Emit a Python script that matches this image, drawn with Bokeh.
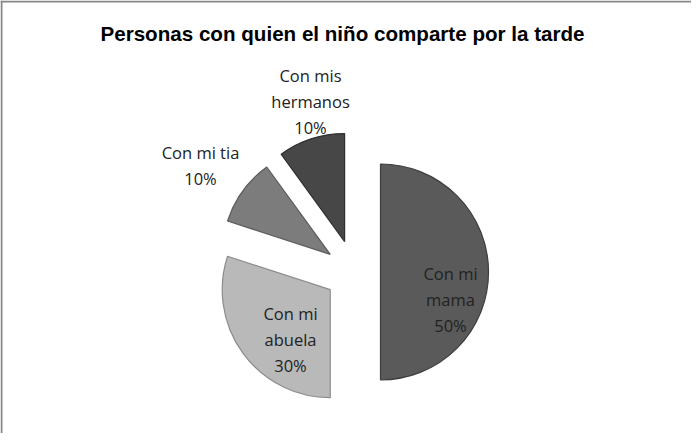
import math
from bokeh.plotting import figure
from bokeh.models import Range1d, Span, Label, ColumnDataSource
from bokeh.core.properties import value
from bokeh.embed import file_html
from bokeh.resources import INLINE

# ---- data ----
title_text = "Personas con quien el niño comparte por la tarde"
categories = ["Con mi\nmama", "Con mi\nabuela", "Con mi tia", "Con mis\nhermanos"]
percentages = [50, 30, 10, 10]

# ---- style ----
fill_colors = ["#5a5a5a", "#b9b9b9", "#7c7c7c", "#474747"]
line_colors = ["#3e3e3e", "#8c8c8c", "#5c5c5c", "#303030"]
explode = [26, 30, 30, 32]           # px offset of each slice along its bisector
label_pos = [(450, 134), (290, 94), (200, 268), (310, 332)]  # label block centres
center_x, center_y, radius = 354, 161.5, 108
W, H = 691, 433

p = figure(width=W, height=H, output_backend="svg", toolbar_location=None,
           x_range=Range1d(0, W), y_range=Range1d(0, H), min_border=0,
           x_axis_type=None, y_axis_type=None)
p.grid.visible = False
p.outline_line_color = None
p.background_fill_color = "white"
p.border_fill_color = "white"

total = sum(percentages)
xs, ys, starts, ends, texts = [], [], [], [], []
cum = 0.0
for cat, v, d in zip(categories, percentages, explode):
    th0 = cum / total * 360.0          # clockwise from 12 o'clock
    th1 = (cum + v) / total * 360.0
    cum += v
    mid = math.radians(90 - (th0 + th1) / 2)
    xs.append(center_x + d * math.cos(mid))
    ys.append(center_y + d * math.sin(mid))
    starts.append(math.radians(90 - th1))
    ends.append(math.radians(90 - th0))
    texts.append(f"{cat}\n{v}%")

src = ColumnDataSource(dict(x=xs, y=ys, start=starts, end=ends,
                            fill=fill_colors, line=line_colors))
p.wedge(x="x", y="y", radius=radius, start_angle="start", end_angle="end",
        fill_color="fill", line_color="line", line_width=1.2, source=src)

lsrc = ColumnDataSource(dict(x=[lp[0] for lp in label_pos],
                             y=[lp[1] for lp in label_pos], text=texts))
p.text(x="x", y="y", text="text", source=lsrc, text_font=value("Open Sans"),
       text_font_size="16.5px", text_color="#222222", text_align="center",
       text_baseline="middle", text_line_height=1.12)

p.add_layout(Label(x=342, y=400, text=title_text, text_font="Liberation Sans",
                   text_font_style="bold", text_font_size="20.6px",
                   text_color="black", text_align="center",
                   text_baseline="middle"))

# chart frame (only top and left edges are inside the window)
p.add_layout(Span(location=H - 1, dimension="width", line_color="#878787", line_width=2))
p.add_layout(Span(location=1, dimension="height", line_color="#878787", line_width=2))

open("out.html", "w").write(file_html(p, INLINE))
